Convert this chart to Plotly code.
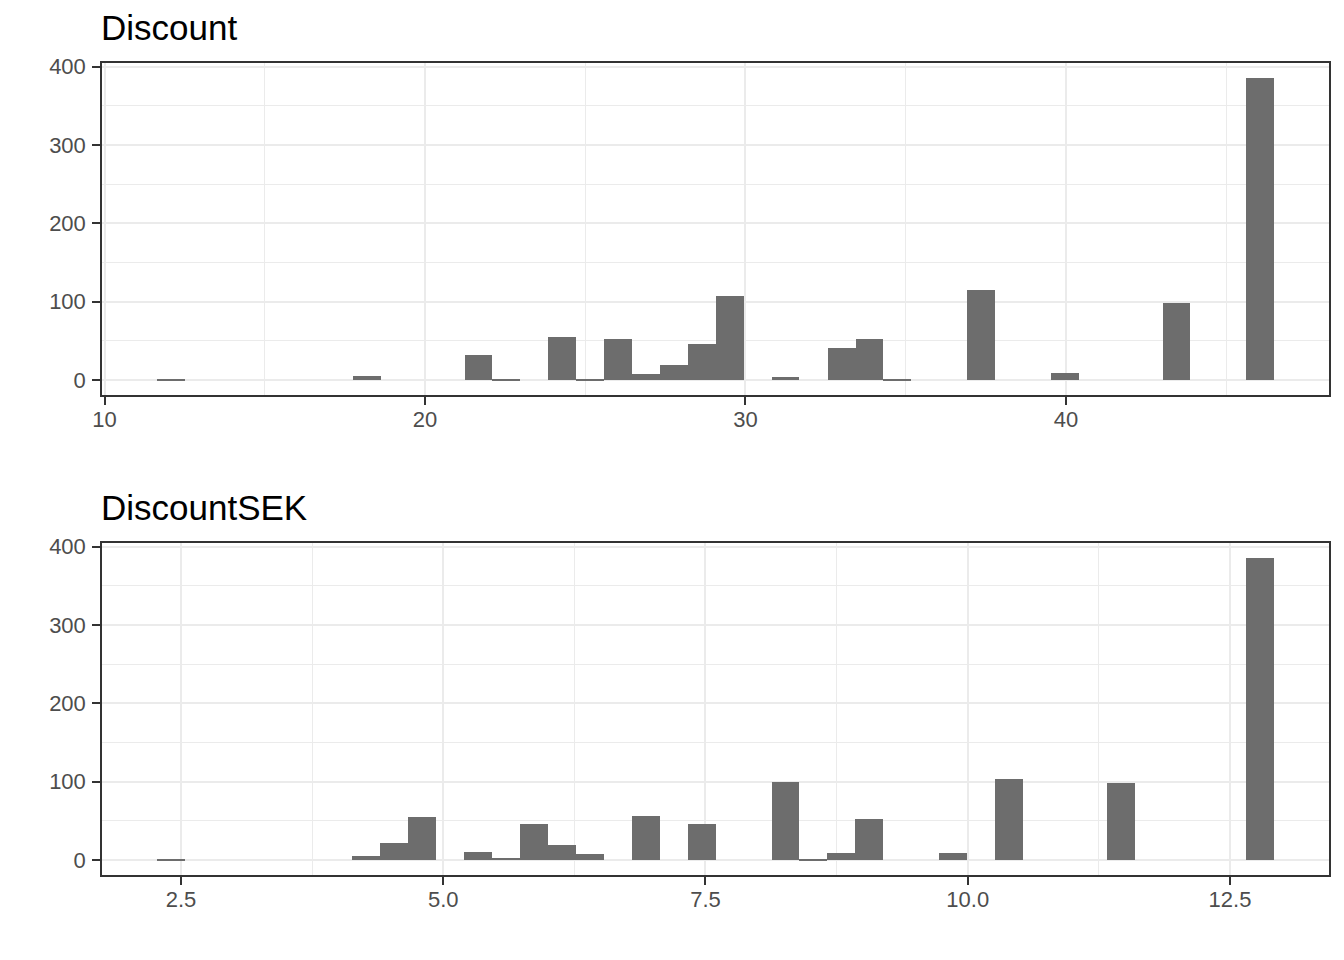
import plotly.graph_objects as go

# ---- data ----
discount_centers = [12.08, 18.18, 21.67, 22.54, 24.28, 25.15, 26.02, 26.90, 27.77,
                    28.64, 29.51, 31.25, 33.00, 33.87, 34.74, 37.35, 39.97, 43.45, 46.07]
discount_counts = [1, 6, 32, 1, 55, 2, 53, 8, 20, 47, 108, 4, 41, 53, 1, 115, 10, 99, 386]

sek_centers = [2.404, 4.268, 4.535, 4.801, 5.334, 5.600, 5.866, 6.133, 6.399, 6.931,
               7.464, 8.263, 8.529, 8.795, 9.062, 9.861, 10.393, 11.459, 12.790]
sek_counts = [1, 6, 22, 55, 11, 3, 47, 20, 8, 57, 47, 100, 1, 10, 53, 10, 104, 99, 386]

discount_xticks = [10, 20, 30, 40]
sek_xticks = [2.5, 5.0, 7.5, 10.0, 12.5]
sek_xtick_labels = ["2.5", "5.0", "7.5", "10.0", "12.5"]
y_ticks = [0, 100, 200, 300, 400]

titles = ["Discount", "DiscountSEK"]

# ---- styling ----
OFF = 8  # page body margin offset
W, H = 1344 - 2 * OFF, 960 - 2 * OFF
BAR = "#6D6D6D"
GRID = "#EBEBEB"
BORDER = "#333333"
FONT = "Liberation Sans, Arial, Helvetica, sans-serif"
tickfont = dict(family=FONT, size=22, color="#4D4D4D")


def px_x(p):
    return (p - OFF) / W


def px_y(p):
    return 1 - (p - OFF) / H


fig = go.Figure()
fig.add_trace(go.Bar(x=discount_centers, y=discount_counts, width=0.8715,
                     marker=dict(color=BAR, line=dict(width=0)),
                     xaxis="x", yaxis="y", showlegend=False))
fig.add_trace(go.Bar(x=sek_centers, y=sek_counts, width=0.2663,
                     marker=dict(color=BAR, line=dict(width=0)),
                     xaxis="x2", yaxis="y2", showlegend=False))

xdom = [px_x(102), px_x(1329)]
ydom_top = [px_y(395), px_y(62.7)]
ydom_bot = [px_y(875), px_y(542.7)]


def axis_common(standoff):
    return dict(showgrid=True, gridcolor=GRID, gridwidth=2, zeroline=False,
                showline=True, mirror=True, linecolor=BORDER, linewidth=1.5,
                ticks="outside", ticklen=8, tickwidth=2, tickcolor=BORDER,
                tickfont=tickfont, automargin=False, fixedrange=True,
                ticklabelstandoff=standoff)


fig.update_layout(
    width=W, height=H,
    margin=dict(l=0, r=0, t=0, b=0),
    paper_bgcolor="white", plot_bgcolor="white",
    bargap=0,
    xaxis=dict(**axis_common(-4), domain=xdom, anchor="y", range=[9.92, 48.21],
               tickvals=discount_xticks,
               minor=dict(tick0=15, dtick=10, showgrid=True, gridcolor=GRID, gridwidth=1, ticklen=0)),
    yaxis=dict(**axis_common(2), domain=ydom_top, anchor="x", range=[-19, 405],
               tickvals=y_ticks,
               minor=dict(tick0=50, dtick=100, showgrid=True, gridcolor=GRID, gridwidth=1, ticklen=0)),
    xaxis2=dict(**axis_common(-4), domain=xdom, anchor="y2", range=[1.747, 13.444],
                tickvals=sek_xticks, ticktext=sek_xtick_labels,
                minor=dict(tick0=1.25, dtick=2.5, showgrid=True, gridcolor=GRID, gridwidth=1, ticklen=0)),
    yaxis2=dict(**axis_common(2), domain=ydom_bot, anchor="x2", range=[-19, 405],
                tickvals=y_ticks,
                minor=dict(tick0=50, dtick=100, showgrid=True, gridcolor=GRID, gridwidth=1, ticklen=0)),
)

title_y = [27.5, 507.7]
for t, yc in zip(titles, title_y):
    fig.add_annotation(text=t, xref="paper", yref="paper", x=px_x(99), y=px_y(yc),
                       xanchor="left", yanchor="middle", showarrow=False,
                       font=dict(family=FONT, size=35, color="black"))

fig.write_html("out.html")
